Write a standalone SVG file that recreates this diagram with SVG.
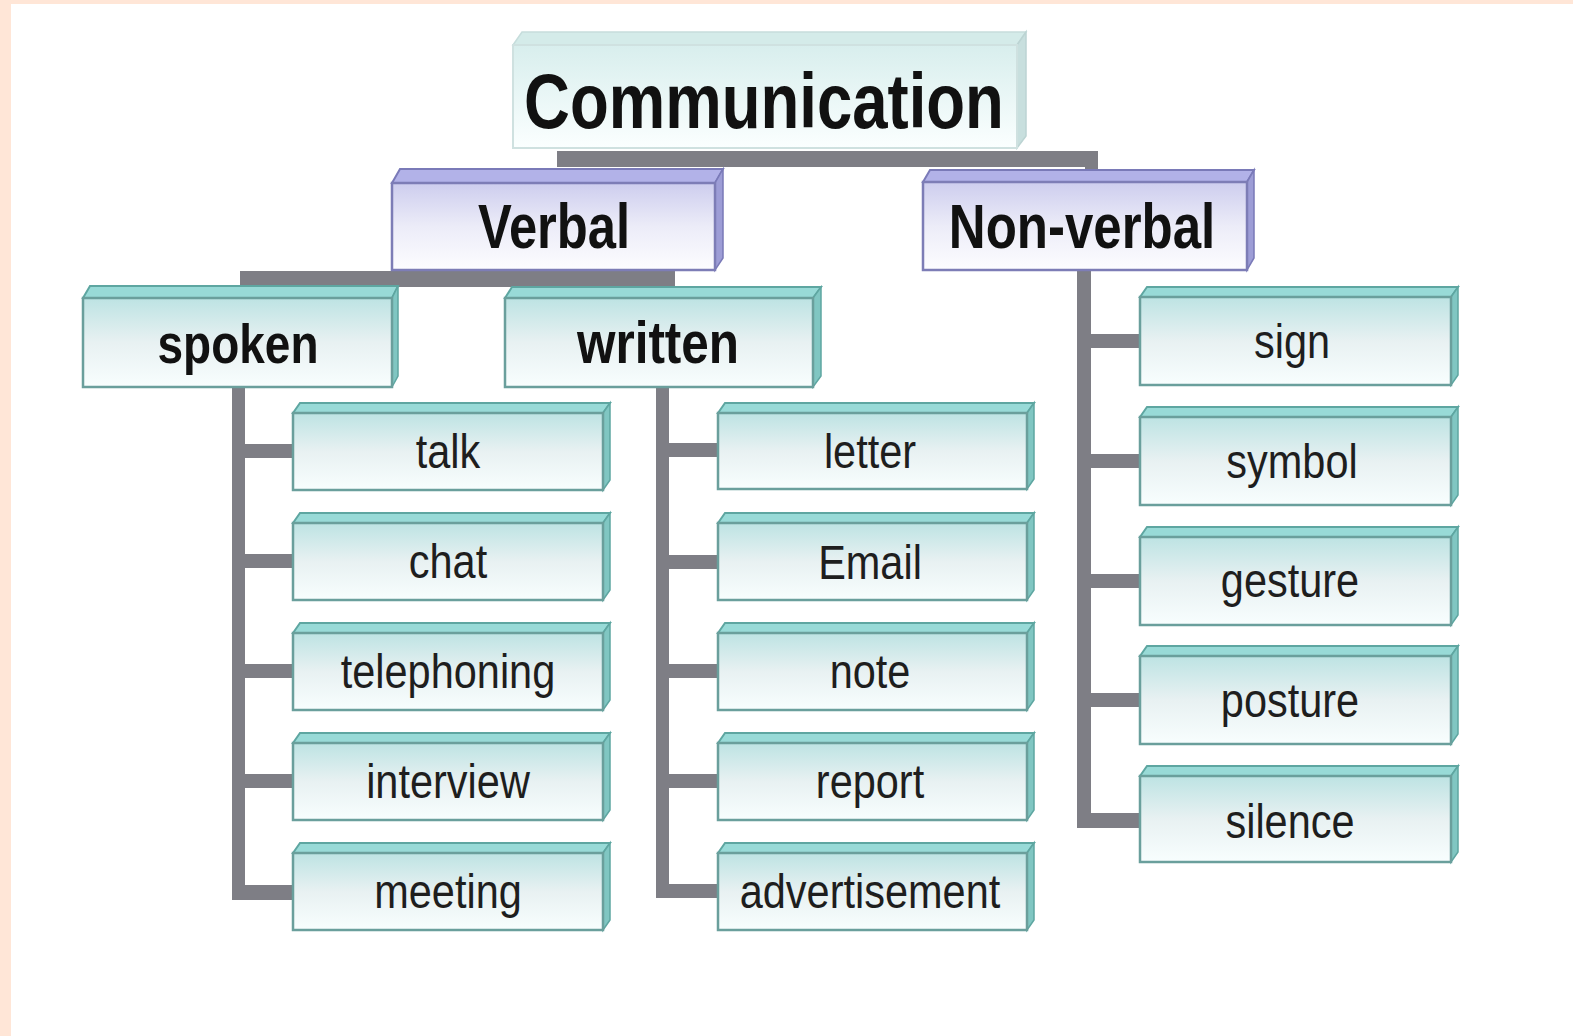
<svg xmlns="http://www.w3.org/2000/svg" width="1573" height="1036" viewBox="0 0 1573 1036">
<defs>
<linearGradient id="gT" x1="0" y1="0" x2="0" y2="1"><stop offset="0" stop-color="#bde3e3"/><stop offset="0.5" stop-color="#e8f1f2"/><stop offset="1" stop-color="#f8fefe"/></linearGradient>
<linearGradient id="gP" x1="0" y1="0" x2="0" y2="1"><stop offset="0" stop-color="#cdcdee"/><stop offset="0.5" stop-color="#ececf8"/><stop offset="1" stop-color="#fdfdff"/></linearGradient>
<linearGradient id="gC" x1="0" y1="0" x2="0" y2="1"><stop offset="0" stop-color="#d8eeed"/><stop offset="1" stop-color="#fbffff"/></linearGradient>
</defs>
<style>
.tf{fill:url(#gT);stroke:#6a9f9c;stroke-width:2.5}
.tt{fill:#98dad7;stroke:#5ea6a1;stroke-width:2}
.ts{fill:#80c6c2;stroke:#5ea6a1;stroke-width:1.5}
.pf{fill:url(#gP);stroke:#7d7db6;stroke-width:2.5}
.pt{fill:#b2b2e8;stroke:#7a7ab8;stroke-width:2}
.ps{fill:#9d9dd6;stroke:#7a7ab8;stroke-width:1.5}
.cf{fill:url(#gC);stroke:#cfe1e0;stroke-width:2}
.ct{fill:#d4ebe9;stroke:#c6dddc;stroke-width:1.5}
.cs{fill:#c8dfde;stroke:#bcd4d3;stroke-width:1.5}
.h{font-family:"Liberation Sans",Arial,sans-serif;font-weight:bold;fill:#111;text-anchor:middle}
.l{font-family:"Liberation Sans",Arial,sans-serif;font-size:41.5px;fill:#1e1e1e;text-anchor:middle}
.c{fill:#7e7e85}
</style>
<rect width="1573" height="1036" fill="#ffffff"/>
<rect x="0" y="0" width="1573" height="4" fill="#ffe6d7"/>
<rect x="0" y="0" width="11" height="1036" fill="#ffe6d7"/>

<g id="connectors">
<rect class="c" x="557" y="151" width="541" height="16"/>
<rect class="c" x="1085" y="151" width="13" height="22"/>
<rect class="c" x="240" y="271" width="435" height="16"/>
<rect class="c" x="662" y="271" width="13" height="20"/>
<rect class="c" x="232" y="385" width="13" height="515"/>
<rect class="c" x="232" y="444" width="63" height="14"/>
<rect class="c" x="232" y="554" width="63" height="14"/>
<rect class="c" x="232" y="664" width="63" height="14"/>
<rect class="c" x="232" y="774" width="63" height="14"/>
<rect class="c" x="232" y="885" width="63" height="15"/>
<rect class="c" x="656" y="385" width="13" height="513"/>
<rect class="c" x="656" y="443" width="64" height="14"/>
<rect class="c" x="656" y="555" width="64" height="14"/>
<rect class="c" x="656" y="664" width="64" height="14"/>
<rect class="c" x="656" y="774" width="64" height="14"/>
<rect class="c" x="656" y="884" width="64" height="14"/>
<rect class="c" x="1077" y="268" width="14" height="560"/>
<rect class="c" x="1077" y="334" width="65" height="14"/>
<rect class="c" x="1077" y="454" width="65" height="14"/>
<rect class="c" x="1077" y="574" width="65" height="14"/>
<rect class="c" x="1077" y="693" width="65" height="14"/>
<rect class="c" x="1077" y="813" width="65" height="15"/>
</g>

<g id="communication">
<polygon class="ct" points="513,45 522,32 1026,32 1017,45"/>
<polygon class="cs" points="1017,45 1026,32 1026,136 1017,148"/>
<rect class="cf" x="513" y="45" width="504" height="103"/>
<text class="h" font-size="63.5" transform="translate(764,128) scale(1,1.22)">Communication</text>
</g>

<g id="verbal">
<polygon class="pt" points="392,183 400,169 723,169 715,183"/>
<polygon class="ps" points="715,183 723,169 723,258 715,270"/>
<rect class="pf" x="392" y="183" width="323" height="87"/>
<text class="h" font-size="50.7" transform="translate(554,248) scale(1,1.23)">Verbal</text>
</g>

<g id="nonverbal">
<polygon class="pt" points="923,182 930,170 1254,170 1247,182"/>
<polygon class="ps" points="1247,182 1254,170 1254,258 1247,270"/>
<rect class="pf" x="923" y="182" width="324" height="88"/>
<text class="h" font-size="51" transform="translate(1082,248) scale(1,1.23)">Non-verbal</text>
</g>

<g id="spoken">
<polygon class="tt" points="83,298 90,286 398,286 392,298"/>
<polygon class="ts" points="392,298 398,286 398,376 392,387"/>
<rect class="tf" x="83" y="298" width="309" height="89"/>
<text class="h" font-size="46" transform="translate(238,363) scale(1,1.2)">spoken</text>
</g>

<g id="written">
<polygon class="tt" points="505,298 512,287 821,287 813,298"/>
<polygon class="ts" points="813,298 821,287 821,376 813,387"/>
<rect class="tf" x="505" y="298" width="308" height="89"/>
<text class="h" font-size="49.5" transform="translate(658,363) scale(1,1.2)">written</text>
</g>

<g id="talk">
<polygon class="tt" points="293,413 300,403 610,403 603,413"/>
<polygon class="ts" points="603,413 610,403 610,480 603,490"/>
<rect class="tf" x="293" y="413" width="310" height="77"/>
<text class="l" transform="translate(448,468) scale(1,1.18)">talk</text>
</g>
<g id="chat">
<polygon class="tt" points="293,523 300,513 610,513 603,523"/>
<polygon class="ts" points="603,523 610,513 610,590 603,600"/>
<rect class="tf" x="293" y="523" width="310" height="77"/>
<text class="l" transform="translate(448,578) scale(1,1.18)">chat</text>
</g>
<g id="telephoning">
<polygon class="tt" points="293,633 300,623 610,623 603,633"/>
<polygon class="ts" points="603,633 610,623 610,700 603,710"/>
<rect class="tf" x="293" y="633" width="310" height="77"/>
<text class="l" transform="translate(448,688) scale(1,1.18)">telephoning</text>
</g>
<g id="interview">
<polygon class="tt" points="293,743 300,733 610,733 603,743"/>
<polygon class="ts" points="603,743 610,733 610,810 603,820"/>
<rect class="tf" x="293" y="743" width="310" height="77"/>
<text class="l" transform="translate(448,798) scale(1,1.18)">interview</text>
</g>
<g id="meeting">
<polygon class="tt" points="293,853 300,843 610,843 603,853"/>
<polygon class="ts" points="603,853 610,843 610,920 603,930"/>
<rect class="tf" x="293" y="853" width="310" height="77"/>
<text class="l" transform="translate(448,908) scale(1,1.18)">meeting</text>
</g>

<g id="letter">
<polygon class="tt" points="718,413 725,403 1034,403 1027,413"/>
<polygon class="ts" points="1027,413 1034,403 1034,479 1027,489"/>
<rect class="tf" x="718" y="413" width="309" height="76"/>
<text class="l" transform="translate(870,468) scale(1,1.18)">letter</text>
</g>
<g id="email">
<polygon class="tt" points="718,523 725,513 1034,513 1027,523"/>
<polygon class="ts" points="1027,523 1034,513 1034,590 1027,600"/>
<rect class="tf" x="718" y="523" width="309" height="77"/>
<text class="l" transform="translate(870,579) scale(1,1.18)">Email</text>
</g>
<g id="note">
<polygon class="tt" points="718,633 725,623 1034,623 1027,633"/>
<polygon class="ts" points="1027,633 1034,623 1034,700 1027,710"/>
<rect class="tf" x="718" y="633" width="309" height="77"/>
<text class="l" transform="translate(870,688) scale(1,1.18)">note</text>
</g>
<g id="report">
<polygon class="tt" points="718,743 725,733 1034,733 1027,743"/>
<polygon class="ts" points="1027,743 1034,733 1034,810 1027,820"/>
<rect class="tf" x="718" y="743" width="309" height="77"/>
<text class="l" transform="translate(870,798) scale(1,1.18)">report</text>
</g>
<g id="advertisement">
<polygon class="tt" points="718,853 725,843 1034,843 1027,853"/>
<polygon class="ts" points="1027,853 1034,843 1034,920 1027,930"/>
<rect class="tf" x="718" y="853" width="309" height="77"/>
<text class="l" transform="translate(870,908) scale(1,1.18)">advertisement</text>
</g>

<g id="sign">
<polygon class="tt" points="1140,297 1147,287 1458,287 1451,297"/>
<polygon class="ts" points="1451,297 1458,287 1458,375 1451,385"/>
<rect class="tf" x="1140" y="297" width="311" height="88"/>
<text class="l" transform="translate(1292,358) scale(1,1.18)">sign</text>
</g>
<g id="symbol">
<polygon class="tt" points="1140,417 1147,407 1458,407 1451,417"/>
<polygon class="ts" points="1451,417 1458,407 1458,495 1451,505"/>
<rect class="tf" x="1140" y="417" width="311" height="88"/>
<text class="l" transform="translate(1292,478) scale(1,1.18)">symbol</text>
</g>
<g id="gesture">
<polygon class="tt" points="1140,537 1147,527 1458,527 1451,537"/>
<polygon class="ts" points="1451,537 1458,527 1458,615 1451,625"/>
<rect class="tf" x="1140" y="537" width="311" height="88"/>
<text class="l" transform="translate(1290,597) scale(1,1.18)">gesture</text>
</g>
<g id="posture">
<polygon class="tt" points="1140,656 1147,646 1458,646 1451,656"/>
<polygon class="ts" points="1451,656 1458,646 1458,734 1451,744"/>
<rect class="tf" x="1140" y="656" width="311" height="88"/>
<text class="l" transform="translate(1290,717) scale(1,1.18)">posture</text>
</g>
<g id="silence">
<polygon class="tt" points="1140,776 1147,766 1458,766 1451,776"/>
<polygon class="ts" points="1451,776 1458,766 1458,852 1451,862"/>
<rect class="tf" x="1140" y="776" width="311" height="86"/>
<text class="l" transform="translate(1290,838) scale(1,1.18)">silence</text>
</g>
</svg>
